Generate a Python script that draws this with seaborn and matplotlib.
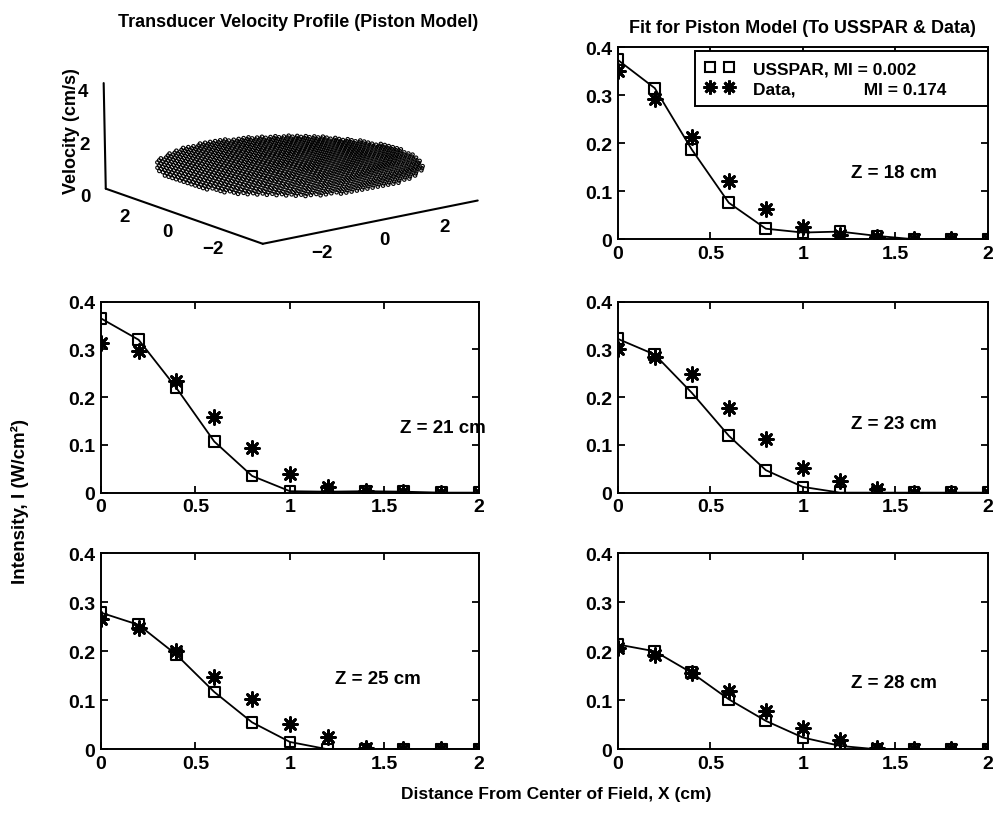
import numpy as np
import matplotlib
matplotlib.use("Agg")
import matplotlib.pyplot as plt
from matplotlib.lines import Line2D
import seaborn as sns

# radial positions (cm)
x_cm = [0.0, 0.2, 0.4, 0.6, 0.8, 1.0, 1.2, 1.4, 1.6, 1.8, 2.0]

# intensity (W/cm^2), USSPAR model and measured data at each depth
usspar_18 = [0.374, 0.315, 0.187, 0.076, 0.022, 0.014, 0.016, 0.007, 0.0, 0.0, 0.0]
data_18 = [0.350, 0.293, 0.213, 0.121, 0.064, 0.026, 0.008, 0.005, 0.0, 0.0, 0.0]
usspar_21 = [0.365, 0.320, 0.219, 0.107, 0.035, 0.003, 0.002, 0.003, 0.002, 0.0, 0.0]
data_21 = [0.314, 0.296, 0.233, 0.159, 0.093, 0.040, 0.012, 0.003, 0.001, 0.0, 0.0]
usspar_23 = [0.322, 0.289, 0.209, 0.119, 0.047, 0.012, 0.0, 0.0, 0.0, 0.0, 0.0]
data_23 = [0.301, 0.284, 0.248, 0.178, 0.113, 0.052, 0.024, 0.007, 0.0, 0.0, 0.0]
usspar_25 = [0.279, 0.254, 0.193, 0.117, 0.055, 0.015, 0.0, 0.0, 0.0, 0.0, 0.0]
data_25 = [0.265, 0.247, 0.200, 0.148, 0.102, 0.052, 0.026, 0.003, 0.0, 0.0, 0.0]
usspar_28 = [0.214, 0.200, 0.156, 0.102, 0.058, 0.024, 0.007, 0.0, 0.0, 0.0, 0.0]
data_28 = [0.207, 0.193, 0.156, 0.119, 0.078, 0.043, 0.018, 0.003, 0.0, 0.0, 0.0]

depth_labels = ["Z = 18 cm", "Z = 21 cm", "Z = 23 cm", "Z = 25 cm", "Z = 28 cm"]
legend_labels = ["USSPAR, MI = 0.002", "Data,              MI = 0.174"]

# piston model: uniform velocity over the transducer face
piston_radius = 3.5
piston_velocity = 1.15
grid_step = 0.17

sns.set_style("ticks")
plt.rcParams["font.family"] = ["Liberation Sans", "DejaVu Sans"]
plt.rcParams["font.weight"] = "bold"
plt.rcParams["axes.titleweight"] = "bold"
plt.rcParams["text.color"] = "black"
plt.rcParams["axes.labelcolor"] = "black"
plt.rcParams["axes.linewidth"] = 1.4
plt.rcParams["xtick.direction"] = "in"
plt.rcParams["ytick.direction"] = "in"
plt.rcParams["xtick.top"] = True
plt.rcParams["ytick.right"] = True

fig = plt.figure(figsize=(9.98, 8.2), dpi=100)

# --- 3D piston velocity profile ---
ax3 = fig.add_axes([-0.105, 0.5875, 0.78, 0.465], projection="3d")
ax3.patch.set_alpha(0)
g = np.arange(-piston_radius, piston_radius + 1e-9, grid_step)
gx, gy = np.meshgrid(g, g)
inside = gx**2 + gy**2 <= piston_radius**2
ax3.scatter(gx[inside], gy[inside], np.full(inside.sum(), piston_velocity),
            marker="o", facecolors="none", edgecolors="black", s=6,
            linewidths=0.8, depthshade=False)
ax3.set_xlim(-3.5, 3.5)
ax3.set_ylim(-3.5, 3.5)
ax3.set_zlim(0, 4)
ax3.set_xticks([-2, 0, 2])
ax3.set_yticks([-2, 0, 2])
ax3.set_zticks([0, 2, 4])
ax3.set_box_aspect((1, 1, 0.41))
ax3.view_init(elev=12.5, azim=-127.5)
ax3.grid(False)
for axis in (ax3.xaxis, ax3.yaxis, ax3.zaxis):
    axis.pane.set_fill(False)
    axis.pane.set_edgecolor("none")
    axis.line.set_color("black")
    axis.line.set_linewidth(1.5)
    axis._axinfo["tick"]["inward_factor"] = 0.0
    axis._axinfo["tick"]["outward_factor"] = 0.0
ax3.tick_params(labelsize=13.5, pad=0, colors="black")
fig.text(0.072, 0.84, "Velocity (cm/s)", rotation=90, ha="center", va="center", fontsize=13)
fig.text(0.299, 0.973, "Transducer Velocity Profile (Piston Model)", ha="center", va="center", fontsize=13)

# --- 2D intensity panels ---
rects = [
    [0.619, 0.707, 0.371, 0.234],
    [0.101, 0.398, 0.379, 0.233],
    [0.619, 0.398, 0.371, 0.233],
    [0.101, 0.085, 0.379, 0.239],
    [0.619, 0.085, 0.371, 0.239],
]
usspar_sets = [usspar_18, usspar_21, usspar_23, usspar_25, usspar_28]
data_sets = [data_18, data_21, data_23, data_25, data_28]
label_pos = [(0.63, 0.35), (0.79, 0.34), (0.63, 0.36), (0.62, 0.36), (0.63, 0.34)]
star = (8, 2, 0)

for rect, us, dat, lab, pos in zip(rects, usspar_sets, data_sets, depth_labels, label_pos):
    ax = fig.add_axes(rect)
    sns.lineplot(x=x_cm, y=us, ax=ax, color="black", linewidth=1.3)
    sns.scatterplot(x=x_cm, y=us, ax=ax, marker="s", s=60, facecolors="none",
                    edgecolor="black", linewidth=1.5, zorder=3)
    sns.scatterplot(x=x_cm, y=dat, ax=ax, marker=star, s=100, color="black",
                    linewidth=2.0, zorder=4)
    ax.set_xlim(0, 2)
    ax.set_ylim(0, 0.4)
    ax.set_xticks([0, 0.5, 1, 1.5, 2])
    ax.set_xticklabels(["0", "0.5", "1", "1.5", "2"])
    ax.set_yticks([0, 0.1, 0.2, 0.3, 0.4])
    ax.set_yticklabels(["0", "0.1", "0.2", "0.3", "0.4"])
    ax.tick_params(labelsize=14, length=5, width=1.3, colors="black", pad=4)
    for sp in ax.spines.values():
        sp.set_color("black")
    ax.text(pos[0], pos[1], lab, transform=ax.transAxes, ha="left", va="center", fontsize=13.5)
    if lab == depth_labels[0]:
        ax.set_title("Fit for Piston Model (To USSPAR & Data)", fontsize=13, pad=11)
        handles = [
            Line2D([], [], linestyle="none", marker="s", markersize=7, markerfacecolor="none",
                   markeredgecolor="black", markeredgewidth=1.5),
            Line2D([], [], linestyle="none", marker=star, markersize=10, color="black",
                   markeredgewidth=2.0),
        ]
        leg = ax.legend(handles, legend_labels, loc="upper left",
                        bbox_to_anchor=(0.208, 0.677, 0.792, 0.302), mode="expand",
                        numpoints=2, fontsize=12.5, frameon=True, fancybox=False,
                        edgecolor="black", borderaxespad=0, handlelength=1.7,
                        handletextpad=1.1, labelspacing=0.3, borderpad=0.55)
        leg.get_frame().set_linewidth(1.4)
        leg.get_frame().set_alpha(1)

fig.text(0.02, 0.388, "Intensity, I (W/cm\u00b2)", rotation=90, ha="center", va="center", fontsize=13.5)
fig.text(0.557, 0.031, "Distance From Center of Field, X (cm)", ha="center", va="center", fontsize=12.5)

fig.savefig("out.png", dpi=100)
